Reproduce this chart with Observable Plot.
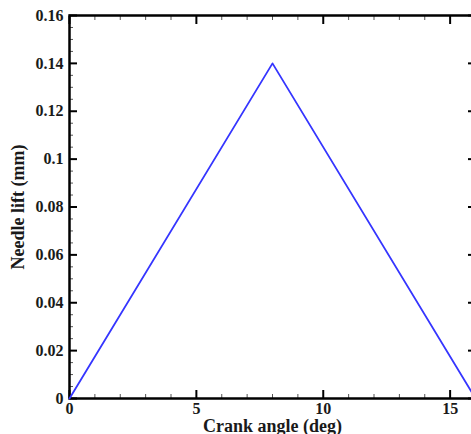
<!DOCTYPE html>
<html>
<head>
<meta charset="utf-8">
<script src="https://cdn.jsdelivr.net/npm/d3@7"></script>
<script src="https://cdn.jsdelivr.net/npm/@observablehq/plot@0.6"></script>
<style>
  html, body { margin: 0; padding: 0; background: #fff; overflow: hidden; }
  #chart svg { display: block; max-width: none !important; }
  #chart svg text { font-family: "Liberation Serif", serif; font-weight: bold; fill: #1a1a1a; }
  g[aria-label="x-axis label"] text, g[aria-label="y-axis label"] text { font-size: 18px; }
</style>
</head>
<body>
<div id="chart"></div>
<script>
// Data
const crankAngle = [0, 8, 16];          // deg
const needleLift = [0, 0.14, 0];        // mm

const xTicks = [0, 5, 10, 15];
const xMinorTicks = [1, 2, 3, 4, 6, 7, 8, 9, 11, 12, 13, 14, 16];
const yTicks = [0, 0.02, 0.04, 0.06, 0.08, 0.1, 0.12, 0.14, 0.16];
const yMinorTicks = d3.range(0, 33).map(i => +(i * 0.005).toFixed(3)).filter(v => !yTicks.includes(v));

const data = crankAngle.map((x, i) => ({x, y: needleLift[i]}));
const fmt = d => String(+d.toFixed(2));
const blank = () => "";

const chart = Plot.plot({
  width: 480,
  height: 434,
  marginLeft: 69,
  marginRight: 5,
  marginTop: 15,
  marginBottom: 36,
  style: {fontSize: "16px", background: "#fff", color: "#000", maxWidth: "none"},
  x: {domain: [0, 16]},
  y: {domain: [0, 0.16]},
  marks: [
    // major ticks with labels
    Plot.axisX(xTicks, {anchor: "bottom", tickSize: -8, tickPadding: 12, tickFormat: fmt, strokeWidth: 2,
      label: "Crank angle (deg)", labelArrow: "none", labelAnchor: "center", labelOffset: 33}),
    Plot.axisY(yTicks, {anchor: "left", tickSize: -8, tickPadding: 14, tickFormat: fmt, strokeWidth: 2,
      label: "Needle lift (mm)", labelArrow: "none", labelAnchor: "center", labelOffset: 58}),
    Plot.axisX(xTicks, {anchor: "top", tickSize: -8, tickFormat: blank, strokeWidth: 2, label: null}),
    Plot.axisY(yTicks, {anchor: "right", tickSize: -8, tickFormat: blank, strokeWidth: 2, label: null}),
    // minor ticks
    Plot.axisX(xMinorTicks, {anchor: "bottom", tickSize: -4, tickFormat: blank, label: null, stroke: "#555"}),
    Plot.axisX(xMinorTicks, {anchor: "top", tickSize: -4, tickFormat: blank, label: null, stroke: "#555"}),
    Plot.axisY(yMinorTicks, {anchor: "left", tickSize: -4, tickFormat: blank, label: null, stroke: "#555"}),
    Plot.axisY(yMinorTicks, {anchor: "right", tickSize: -4, tickFormat: blank, label: null, stroke: "#555"}),
    Plot.frame({stroke: "#000", strokeWidth: 2.5}),
    Plot.line(data, {x: "x", y: "y", stroke: "#3535ff", strokeWidth: 1.8})
  ]
});
document.getElementById("chart").append(chart);
</script>
</body>
</html>
